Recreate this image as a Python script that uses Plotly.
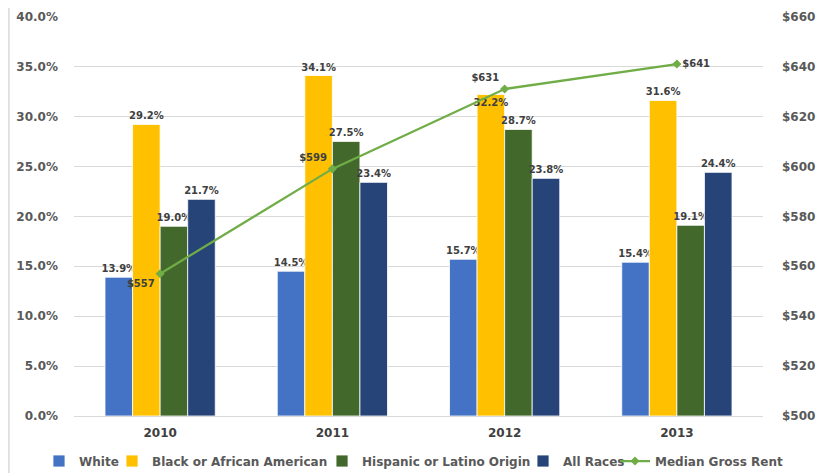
import plotly.graph_objects as go

years = ["2010", "2011", "2012", "2013"]
white = [13.9, 14.5, 15.7, 15.4]
black = [29.2, 34.1, 32.2, 31.6]
hispanic = [19.0, 27.5, 28.7, 19.1]
all_races = [21.7, 23.4, 23.8, 24.4]
rent = [557, 599, 631, 641]

pct_ticks = [0, 5, 10, 15, 20, 25, 30, 35, 40]
pct_labels = ["0.0%", "5.0%", "10.0%", "15.0%", "20.0%", "25.0%", "30.0%", "35.0%", "40.0%"]
rent_ticks = [500, 520, 540, 560, 580, 600, 620, 640, 660]
rent_labels = ["$500", "$520", "$540", "$560", "$580", "$600", "$620", "$640", "$660"]

series = [
    ("White", white, "#4472C4"),
    ("Black or African American", black, "#FFC000"),
    ("Hispanic or Latino Origin", hispanic, "#43682B"),
    ("All Races", all_races, "#264478"),
]
legend_ids = ["legend", "legend2", "legend3", "legend4", "legend5"]
legend_x = [-0.0508, 0.0552, 0.3600, 0.6517, 0.7852]

font_family = "'DejaVu Sans', Verdana, sans-serif"
label_font = dict(size=10, color="#404040", family=font_family, weight="bold")

fig = go.Figure()
for i, (name, vals, col) in enumerate(series):
    positions = ["outside"] * len(vals)
    if name.startswith("Black"):
        positions[2] = "inside"
    fig.add_trace(go.Bar(
        x=years, y=vals, name=name, legend=legend_ids[i],
        marker=dict(color=col, line=dict(color="white", width=0.8)),
        text=[f"{v:.1f}%" for v in vals], textposition=positions,
        insidetextanchor="end", constraintext="none", textangle=0,
        textfont=label_font, insidetextfont=label_font, outsidetextfont=label_font,
        cliponaxis=False,
    ))

fig.add_trace(go.Scatter(
    x=years, y=rent, name="Median Gross Rent", yaxis="y2", legend=legend_ids[4],
    mode="lines+markers+text",
    line=dict(color="#70AD47", width=2.25),
    marker=dict(symbol="diamond", size=7, color="#70AD47"),
    text=[f"${v}" for v in rent],
    textposition=["bottom left", "top left", "top left", "middle right"],
    textfont=label_font,
    cliponaxis=False,
))

tick_font = dict(size=12, color="#595959", family=font_family, weight="bold")
legend_font = dict(size=12, color="#595959", family=font_family, weight="bold")

legends = {}
for lid, lx in zip(legend_ids, legend_x):
    legends[lid] = dict(orientation="h", x=lx, xanchor="left", y=-0.1125,
                        yanchor="middle", font=legend_font, itemwidth=30,
                        bgcolor="rgba(0,0,0,0)")

fig.update_layout(
    width=825, height=465,
    margin=dict(l=66, r=70, t=8, b=57, autoexpand=False),
    paper_bgcolor="white", plot_bgcolor="white",
    barmode="group", bargap=0.36, bargroupgap=0,
    font=dict(family=font_family, color="#595959", size=12, weight="bold"),
    xaxis=dict(showgrid=False, showline=True, linecolor="#D9D9D9",
               tickfont=dict(size=12, color="#404040", family=font_family, weight="bold"),
               ticks="", ticklabelstandoff=6),
    yaxis=dict(range=[0, 40.06], tickmode="array", tickvals=pct_ticks, ticktext=pct_labels,
               gridcolor="#D9D9D9", zeroline=False, ticklabelstandoff=15,
               ticklabeloverflow="allow", tickfont=tick_font),
    yaxis2=dict(range=[500, 660.24], tickmode="array", tickvals=rent_ticks, ticktext=rent_labels,
                overlaying="y", side="right", showgrid=False, zeroline=False,
                ticklabelstandoff=18, ticklabeloverflow="allow", tickfont=tick_font),
    showlegend=True,
    shapes=[dict(type="line", xref="paper", yref="paper",
                 x0=-0.0945, x1=-0.0945, y0=-0.15, y1=1.03,
                 line=dict(color="#D9D9D9", width=1.5)),
            dict(type="line", xref="paper", yref="paper",
                 x0=1.094, x1=1.094, y0=-0.15, y1=1.03,
                 line=dict(color="#D9D9D9", width=1.5))],
    **legends,
)

fig.write_html("out.html")
